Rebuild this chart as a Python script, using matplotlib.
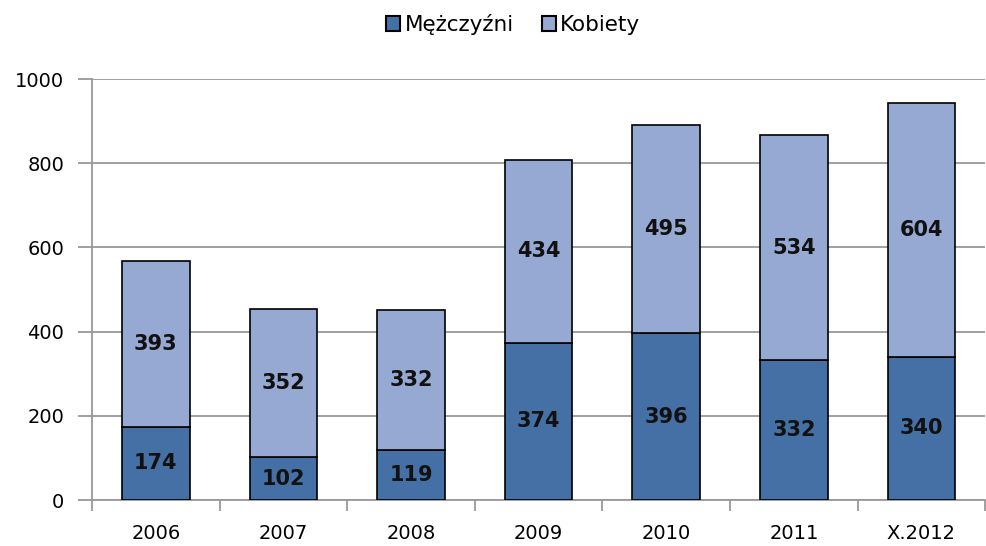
import numpy as np
import matplotlib.pyplot as plt
from matplotlib.patches import Patch

years = ['2006', '2007', '2008', '2009', '2010', '2011', 'X.2012']
men = [174, 102, 119, 374, 396, 332, 340]
women = [393, 352, 332, 434, 495, 534, 604]

c_men = '#4570a6'
c_women = '#95a9d2'
grid_c = '#999999'

plt.rcParams['font.family'] = ['DejaVu Sans']

fig = plt.figure(figsize=(9.87, 5.46), dpi=100)
ax = fig.add_axes([0.0932, 0.0842, 0.905, 0.7711])

x = np.arange(len(years))
w = 0.53
ax.bar(x, men, w, color=c_men, edgecolor='black', linewidth=1.2, zorder=3)
ax.bar(x, women, w, bottom=men, color=c_women, edgecolor='black', linewidth=1.2, zorder=3)

for i in range(len(years)):
    ax.text(x[i], men[i] / 2, str(men[i]), ha='center', va='center',
            fontsize=15, fontweight='bold', color='#111111', zorder=4)
    ax.text(x[i], men[i] + women[i] / 2, str(women[i]), ha='center', va='center',
            fontsize=15, fontweight='bold', color='#111111', zorder=4)

ax.set_xlim(-0.5, len(years) - 0.5)
ax.set_ylim(0, 1000)
ax.set_yticks(range(0, 1001, 200))
ax.yaxis.grid(True, color=grid_c, linewidth=1.3, zorder=0)

# category ticks sit between bars, labels at bar centres
ax.set_xticks(np.arange(-0.5, len(years), 1.0))
ax.set_xticklabels([])
ax.set_xticks(x, minor=True)
ax.set_xticklabels(years, minor=True)
ax.tick_params(axis='x', which='major', length=8, width=1.3, color=grid_c, direction='out')
ax.tick_params(axis='x', which='minor', length=0, pad=17, labelsize=14)
ax.tick_params(axis='y', length=10, width=1.3, color=grid_c, labelsize=14, pad=10)

for s in ['top', 'right']:
    ax.spines[s].set_visible(False)
for s in ['left', 'bottom']:
    ax.spines[s].set_color(grid_c)
    ax.spines[s].set_linewidth(1.3)

handles = [Patch(facecolor=c_men, edgecolor='black', linewidth=1.5, label='Mężczyźni'),
           Patch(facecolor=c_women, edgecolor='black', linewidth=1.5, label='Kobiety')]
fig.legend(handles=handles, loc='center', bbox_to_anchor=(0.52, 0.955), ncol=2,
           frameon=False, fontsize=15.5, handlelength=0.65, handleheight=0.65,
           handletextpad=0.2, columnspacing=1.3)

fig.savefig('out.png', dpi=100)
